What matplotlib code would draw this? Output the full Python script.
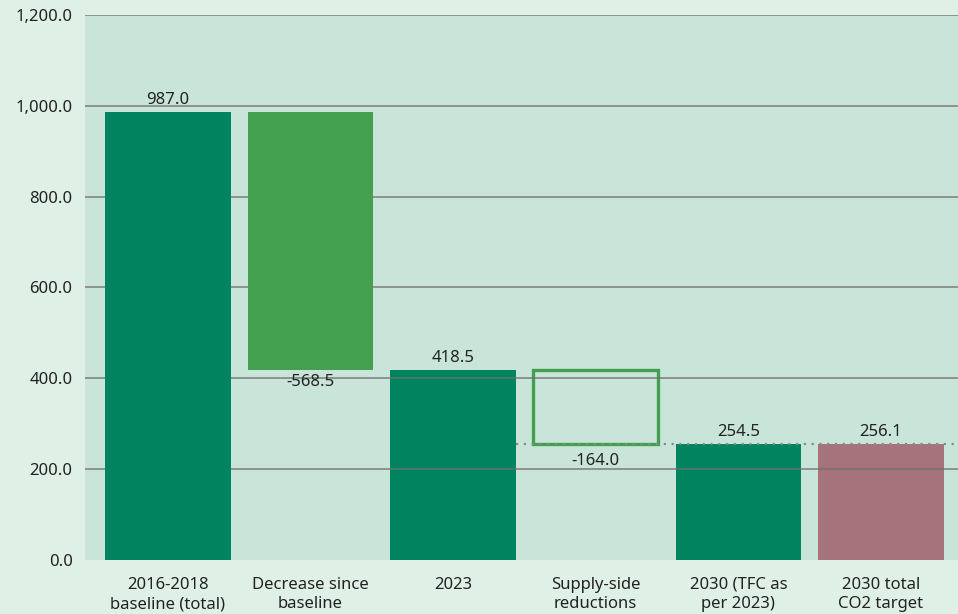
import matplotlib.pyplot as plt

# Chart data
categories = ["2016-2018\nbaseline (total)", "Decrease since\nbaseline", "2023",
              "Supply-side\nreductions", "2030 (TFC as\nper 2023)", "2030 total\nCO2 target"]
values = [987.0, -568.5, 418.5, -164.0, 254.5, 256.1]
kinds = ["total", "decrease", "total", "decrease_outline", "total", "target"]
yticks = [0, 200, 400, 600, 800, 1000, 1200]

DARK = "#00845f"
LIGHT = "#43a04e"
ROSE = "#a6737c"
PLOT_BG = "#c9e5da"
FIG_BG = "#dff0e7"
TEXT = "#222222"

plt.rcParams['font.family'] = ['Noto Sans', 'DejaVu Sans']
FS = 12

fig = plt.figure(figsize=(9.58, 6.14), dpi=100, facecolor=FIG_BG)
ax = fig.add_axes([85 / 958, 54 / 614, 873 / 958, 545 / 614])
ax.set_facecolor(PLOT_BG)

width = 0.88
level = 0
for i, (v, kind) in enumerate(zip(values, kinds)):
    if kind in ("total", "target"):
        bottom, height = 0, v
        level = v
    else:
        bottom, height = level + v, -v
        level = level + v
    # first two bars sit above the gridlines, later ones below
    z = 3 if i < 2 else 1
    if kind == "total":
        ax.bar(i, height, bottom=bottom, width=width, color=DARK, zorder=z)
    elif kind == "target":
        ax.bar(i, height, bottom=bottom, width=width, color=ROSE, zorder=z)
    elif kind == "decrease":
        ax.bar(i, height, bottom=bottom, width=width, color=LIGHT, zorder=z)
    else:
        ax.bar(i, height, bottom=bottom, width=width, facecolor="none",
               edgecolor=LIGHT, linewidth=2.4, zorder=z)

    if kind in ("total", "target"):
        ax.annotate(f"{v:.1f}", (i, bottom + height), xytext=(0, 3),
                    textcoords="offset points", ha="center", va="bottom",
                    fontsize=FS, color=TEXT, zorder=5)
    else:
        off = -3 if kind == "decrease" else -6
        ax.annotate(f"{v:.1f}", (i, bottom), xytext=(0, off),
                    textcoords="offset points", ha="center", va="top",
                    fontsize=FS, color=TEXT, zorder=5)

# dotted connector at the 2030 level
ax.plot([2 + width / 2, 5.6], [values[4], values[4]], linestyle=(0, (1, 2.5)),
        color="#7f8f88", linewidth=1.6, zorder=4)

ax.set_xlim(-0.58, 5.54)
ax.set_ylim(0, 1200)
ax.set_yticks(yticks)
ax.set_yticklabels([f"{t:,.1f}" for t in yticks], fontsize=FS, color=TEXT)
ax.set_xticks(range(len(categories)))
ax.set_xticklabels(categories, fontsize=FS, color=TEXT, linespacing=1.3)
ax.tick_params(axis="both", length=0)
ax.tick_params(axis="x", pad=12)
ax.tick_params(axis="y", pad=9)
ax.yaxis.grid(True, color="#6f6f6f", linewidth=1.3, alpha=0.75)
ax.set_axisbelow(False)
gridlines = ax.get_ygridlines()
for gl in gridlines:
    gl.set_zorder(2)
gridlines[0].set_visible(False)
for s in ax.spines.values():
    s.set_visible(False)

fig.savefig("out.png", dpi=100, facecolor=FIG_BG)
